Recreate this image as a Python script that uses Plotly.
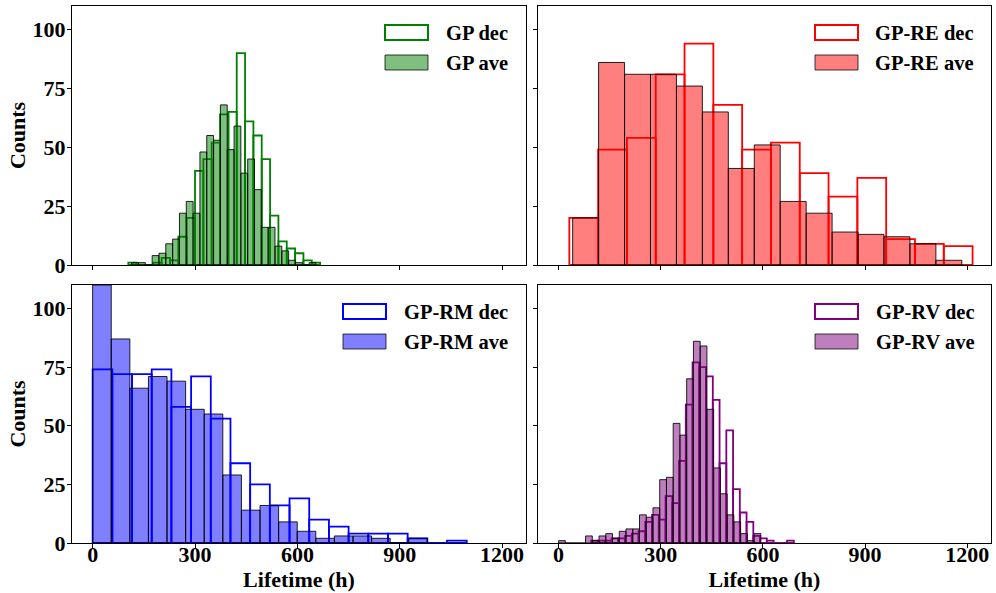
import numpy as np
import plotly.graph_objects as go

# ---------------- data ----------------
x_ticks = [0, 300, 600, 900, 1200]
y_ticks = [0, 25, 50, 75, 100]

# GP
gp_dec_start, gp_dec_width = 104.5, 24.44
gp_dec_counts = [1, 0, 0, 1, 3, 2, 12, 20, 40, 45, 52, 64, 65, 90, 61, 55, 45, 21, 10, 7, 5, 2, 1]
gp_ave_start, gp_ave_width = 114.4, 20.0
gp_ave_counts = [1, 1, 0, 4, 5, 9, 11, 22, 27, 22, 48, 55, 53, 68, 49, 59, 39, 45, 32, 16, 16, 8, 6, 2, 1, 0, 1]

# GP-RE
re_dec_start, re_dec_width = 31.5, 84.6
re_dec_counts = [20, 49, 54, 81, 94, 68, 49, 52, 39, 29, 37, 11, 9, 8]
re_ave_start, re_ave_width = 41.3, 76.2
re_ave_counts = [20, 86, 81, 81, 76, 65, 41, 51, 27, 22, 14, 13, 12, 9, 2]

# GP-RM
rm_dec_start, rm_dec_width = 0.0, 57.7
rm_dec_counts = [74, 72, 72, 74, 58, 71, 53, 34, 25, 16, 19, 10, 7, 4, 4, 4, 2, 0, 1]
rm_ave_start, rm_ave_width = 0.0, 54.5
rm_ave_counts = [110, 87, 66, 71, 69, 57, 55, 29, 14, 16, 9, 5, 2, 3, 3, 2, 0, 2]

# GP-RV
rv_dec_start, rv_dec_width = 96.0, 19.83
rv_dec_counts = [1, 1, 1, 2, 2, 3, 4, 5, 9, 12, 10, 20, 17, 35, 59, 77, 75, 71, 61, 34,
                 48, 23, 13, 9, 3, 2, 1, 0, 0, 1]
rv_ave_start, rv_ave_width = 0.0, 19.8
rv_ave_counts = [1, 0, 0, 0, 3, 1, 3, 4, 2, 5, 6, 6, 12, 11, 15, 27, 28, 51, 46, 70,
                 86, 84, 57, 32, 21, 12, 9, 4, 1, 4]

series_names = ["GP", "GP-RE", "GP-RM", "GP-RV"]
x_title = "Lifetime (h)"
y_title = "Counts"

# ---------------- layout helpers ----------------
W, H = 996, 593
ML, MR, MT, MB = 72, 5, 6, 50
PW = W - ML - MR
PH = H - MT - MB
FONT = "Liberation Serif, Times New Roman, serif"


def fx(px):
    return (px - ML) / PW


def fy(py):
    return (H - MB - py) / PH


XR = [-60.5, 1270]
YR = [0, 110]

panels = [
    dict(name=series_names[0], dec=(gp_dec_start, gp_dec_width, gp_dec_counts),
         ave=(gp_ave_start, gp_ave_width, gp_ave_counts),
         line="#008000", fill="rgba(0,128,0,0.5)", ax="",
         xdom=[fx(72), fx(526)], ydom=[fy(265), fy(6)], leg=(385, 25, 444)),
    dict(name=series_names[1], dec=(re_dec_start, re_dec_width, re_dec_counts),
         ave=(re_ave_start, re_ave_width, re_ave_counts),
         line="#ff0000", fill="rgba(255,0,0,0.5)", ax="2",
         xdom=[fx(538), fx(991)], ydom=[fy(265), fy(6)], leg=(815, 25, 873)),
    dict(name=series_names[2], dec=(rm_dec_start, rm_dec_width, rm_dec_counts),
         ave=(rm_ave_start, rm_ave_width, rm_ave_counts),
         line="#0000ff", fill="rgba(0,0,255,0.5)", ax="3",
         xdom=[fx(72), fx(526)], ydom=[fy(543), fy(285)], leg=(343, 304, 402)),
    dict(name=series_names[3], dec=(rv_dec_start, rv_dec_width, rv_dec_counts),
         ave=(rv_ave_start, rv_ave_width, rv_ave_counts),
         line="#800080", fill="rgba(128,0,128,0.5)", ax="4",
         xdom=[fx(538), fx(991)], ydom=[fy(543), fy(285)], leg=(815, 304, 874)),
]

fig = go.Figure()
shapes = []
annotations = []
EDGE = "rgba(0,0,0,0.85)"

for i, p in enumerate(panels):
    xa = "x" + p["ax"]
    ya = "y" + p["ax"]
    s, w, c = p["dec"]
    c = np.asarray(c, dtype=float)
    centers = s + w * (np.arange(len(c)) + 0.5)
    fig.add_trace(go.Bar(
        x=centers, y=c, width=w, xaxis=xa, yaxis=ya,
        name=p["name"] + " dec", showlegend=False,
        marker=dict(color="rgba(255,255,255,0)", line=dict(color=p["line"], width=1.8)),
    ))
    s, w, c = p["ave"]
    c = np.asarray(c, dtype=float)
    centers = s + w * (np.arange(len(c)) + 0.5)
    fig.add_trace(go.Bar(
        x=centers, y=c, width=w, xaxis=xa, yaxis=ya,
        name=p["name"] + " ave", showlegend=False,
        marker=dict(color=p["fill"], line=dict(color=EDGE, width=1.0)),
    ))

    # legend (handles + text)
    hx, hy, tx = p["leg"]
    hw, hh, gap = 43, 15, 30
    for k, (lab, fillc, linec, lw) in enumerate([
            (p["name"] + " dec", "white", p["line"], 2.0),
            (p["name"] + " ave", p["fill"], "rgba(0,0,0,0.75)", 1.0)]):
        y0 = hy + k * gap
        shapes.append(dict(type="rect", xref="paper", yref="paper",
                           x0=fx(hx), x1=fx(hx + hw), y0=fy(y0 + hh), y1=fy(y0),
                           fillcolor=fillc, line=dict(color=linec, width=lw), layer="above"))
        annotations.append(dict(text=lab, xref="paper", yref="paper",
                                x=fx(tx), y=fy(y0 + hh / 2 + 0.5), xanchor="left", yanchor="middle",
                                showarrow=False,
                                font=dict(family=FONT, size=20.5, color="black", weight="bold")))

tickfont = dict(family=FONT, size=22, color="black", weight="bold")
titlefont = dict(family=FONT, size=22, color="black", weight="bold")

layout = dict(
    width=W, height=H,
    margin=dict(l=ML, r=MR, t=MT, b=MB),
    paper_bgcolor="white", plot_bgcolor="white",
    barmode="overlay",
    shapes=shapes, annotations=annotations,
    showlegend=False,
)

for i, p in enumerate(panels):
    axn = p["ax"]
    bottom = i >= 2
    left = i % 2 == 0
    xa = dict(domain=p["xdom"], range=XR, anchor="y" + axn, tickvals=x_ticks,
              showticklabels=bottom, showline=True, linecolor="black", linewidth=1,
              mirror=True, ticks="outside", ticklen=4, tickwidth=1, tickcolor="black",
              showgrid=False, zeroline=False, tickfont=tickfont, automargin=False,
              ticklabelstandoff=-12)
    ya = dict(domain=p["ydom"], range=YR, anchor="x" + axn, tickvals=y_ticks,
              showticklabels=left, showline=True, linecolor="black", linewidth=1,
              mirror=True, ticks="outside", ticklen=4, tickwidth=1, tickcolor="black",
              showgrid=False, zeroline=False, tickfont=tickfont, automargin=False,
              ticklabelstandoff=-3)
    if bottom:
        xa["title"] = dict(text=x_title, font=titlefont, standoff=0)
    if left:
        ya["title"] = dict(text=y_title, font=titlefont, standoff=0)
    layout["xaxis" + axn] = xa
    layout["yaxis" + axn] = ya

fig.update_layout(**layout)
fig.write_html("out.html", config={"displayModeBar": False},
               post_script="document.body.style.margin='0px';")
